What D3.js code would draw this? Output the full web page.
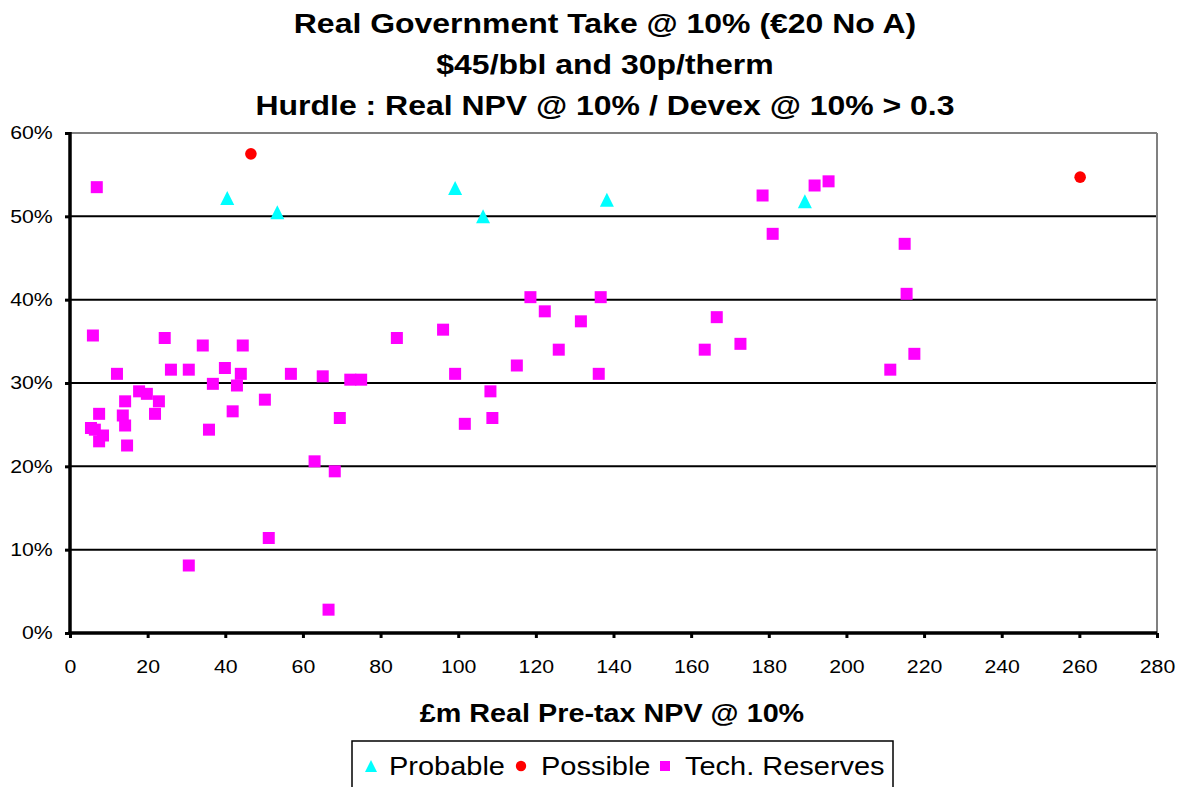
<!DOCTYPE html>
<html>
<head>
<meta charset="utf-8">
<script src="https://cdn.jsdelivr.net/npm/d3@7"></script>
<style>
  html, body { margin: 0; padding: 0; background: #fff; }
  svg { display: block; font-family: "Liberation Sans", Arial, sans-serif; }
</style>
</head>
<body>
<svg id="chart" width="1184" height="787"></svg>
<script>
// ---- Data (x = £m Real Pre-tax NPV @ 10%, y = Real Government Take, %) ----
const titleLines = [
  "Real Government Take @ 10% (€20 No A)",
  "$45/bbl and 30p/therm",
  "Hurdle : Real NPV @ 10% / Devex @ 10% > 0.3"
];
const xAxisTitle = "£m Real Pre-tax NPV @ 10%";
const xTicks = [0, 20, 40, 60, 80, 100, 120, 140, 160, 180, 200, 220, 240, 260, 280];
const yTicks = [0, 10, 20, 30, 40, 50, 60];

const probable = [
  [40.5, 52.2], [53.4, 50.5], [99.2, 53.4], [106.4, 50.0], [138.3, 52.0], [189.3, 51.8]
];
const possible = [
  [46.6, 57.5], [260.2, 54.7]
];
const techReserves = [
  [6.9, 53.5], [5.9, 35.7], [24.4, 35.4], [34.2, 34.5], [44.5, 34.5], [12.1, 31.1],
  [26.0, 31.6], [30.6, 31.6], [39.9, 31.8], [44.0, 31.1], [56.9, 31.1], [65.1, 30.8],
  [72.2, 30.4], [75.0, 30.4], [36.8, 29.9], [43.0, 29.7], [17.8, 29.0], [19.8, 28.7],
  [14.2, 27.8], [22.9, 27.8], [50.2, 28.0], [7.5, 26.3], [13.6, 26.1], [21.9, 26.3],
  [41.9, 26.6], [69.5, 25.8], [5.4, 24.6], [6.4, 24.4], [14.2, 24.9], [8.5, 23.7],
  [7.5, 23.0], [35.8, 24.4], [14.7, 22.5], [63.0, 20.6], [68.2, 19.4], [51.2, 11.4],
  [30.6, 8.1], [66.6, 2.8],
  [118.6, 40.3], [136.7, 40.3], [122.3, 38.6], [131.6, 37.4], [96.1, 36.4], [84.2, 35.4],
  [125.9, 34.0], [115.1, 32.1], [99.2, 31.1], [136.2, 31.1], [108.3, 29.0], [108.8, 25.8],
  [101.7, 25.1],
  [178.4, 52.5], [191.8, 53.7], [195.4, 54.2], [181.0, 47.9], [215.0, 46.7], [215.5, 40.7],
  [166.6, 37.9], [163.5, 34.0], [172.7, 34.7], [217.5, 33.5], [211.3, 31.6]
];
const seriesNames = ["Probable", "Possible", "Tech. Reserves"];
const seriesColors = ["#00FFFF", "#FF0000", "#FF00FF"];

// ---- Layout ----
const plot = { left: 70, right: 1157, top: 133, bottom: 633 };
const SX = 1.15; // horizontal text stretch seen in the reference

const svg = d3.select("#chart");
const x = d3.scaleLinear().domain([0, 280]).range([plot.left, plot.right]);
const y = d3.scaleLinear().domain([0, 60]).range([plot.bottom, plot.top]);

// Titles
svg.append("g").selectAll("text").data(titleLines).join("text")
  .attr("transform", (d, i) => `translate(605,${33 + i * 41}) scale(${SX},1)`)
  .attr("text-anchor", "middle")
  .attr("font-size", 27.8)
  .attr("font-weight", "bold")
  .attr("fill", "#000")
  .text(d => d);

// Gridlines (10%..50%)
svg.append("g").selectAll("line").data(yTicks.filter(t => t > 0 && t < 60)).join("line")
  .attr("x1", plot.left).attr("x2", plot.right)
  .attr("y1", d => y(d)).attr("y2", d => y(d))
  .attr("stroke", "#000").attr("stroke-width", 2);

// Top and right border (grey)
svg.append("line").attr("x1", plot.left).attr("x2", plot.right)
  .attr("y1", y(60)).attr("y2", y(60)).attr("stroke", "#808080").attr("stroke-width", 2);
svg.append("line").attr("x1", plot.right).attr("x2", plot.right)
  .attr("y1", y(60)).attr("y2", y(0)).attr("stroke", "#808080").attr("stroke-width", 2);

// Y axis
const yAxis = d3.axisLeft(y).tickValues(yTicks).tickSize(5).tickPadding(0)
  .tickFormat(d => d + "%");
const gy = svg.append("g").attr("transform", `translate(${plot.left},0)`).call(yAxis);
gy.select(".domain").attr("stroke", "#000").attr("stroke-width", 3.5)
  .attr("d", `M0,${plot.top - 1}V${plot.bottom + 1.5}`);
gy.selectAll(".tick line").attr("stroke", "#000").attr("stroke-width", 3);
gy.selectAll(".tick text")
  .attr("x", -(plot.left - 52.7) / SX)
  .attr("transform", `scale(${SX},1)`)
  .attr("font-size", 18.5)
  .attr("font-family", "'Liberation Sans', Arial, sans-serif")
  .attr("fill", "#000");

// X axis
const xAxis = d3.axisBottom(x).tickValues(xTicks).tickSize(5).tickPadding(22);
const gx = svg.append("g").attr("transform", `translate(0,${plot.bottom})`).call(xAxis);
gx.select(".domain").attr("stroke", "#000").attr("stroke-width", 3.5)
  .attr("d", `M${plot.left - 1.5},0H${plot.right}`);
gx.selectAll(".tick line").attr("stroke", "#000").attr("stroke-width", 3);
gx.selectAll(".tick text")
  .attr("transform", `scale(${SX},1)`)
  .attr("font-size", 18.5)
  .attr("font-family", "'Liberation Sans', Arial, sans-serif")
  .attr("fill", "#000");
gx.selectAll(".tick").each(function (d) {
  d3.select(this).select("text").attr("x", 0);
});

// X axis title
svg.append("text")
  .attr("transform", `translate(612,722) scale(${SX},1)`)
  .attr("text-anchor", "middle")
  .attr("font-size", 25)
  .attr("font-weight", "bold")
  .attr("fill", "#000")
  .text(xAxisTitle);

// Marker shapes
const triPath = "M0,-7L7,7L-7,7Z";
function drawTri(g, data) {
  g.selectAll("path.tri").data(data).join("path").attr("class", "tri")
    .attr("d", triPath)
    .attr("transform", d => `translate(${x(d[0])},${y(d[1])})`)
    .attr("fill", seriesColors[0]);
}
function drawCircle(g, data) {
  g.selectAll("circle").data(data).join("circle")
    .attr("cx", d => x(d[0])).attr("cy", d => y(d[1])).attr("r", 5.8)
    .attr("fill", seriesColors[1]);
}
function drawSquare(g, data) {
  g.selectAll("rect").data(data).join("rect")
    .attr("x", d => x(d[0]) - 6).attr("y", d => y(d[1]) - 6)
    .attr("width", 12).attr("height", 12)
    .attr("fill", seriesColors[2]);
}

drawTri(svg.append("g"), probable);
drawCircle(svg.append("g"), possible);
drawSquare(svg.append("g"), techReserves);

// Legend
const lg = svg.append("g");
lg.append("rect").attr("x", 352).attr("y", 741).attr("width", 541).attr("height", 60)
  .attr("fill", "#fff").attr("stroke", "#000").attr("stroke-width", 1.5);
const legendItems = [
  { name: seriesNames[0], mx: 371, tx: 389 },
  { name: seriesNames[1], mx: 521, tx: 541 },
  { name: seriesNames[2], mx: 665, tx: 685 }
];
const ly = 766;
lg.append("path").attr("d", "M0,-6L6,6L-6,6Z")
  .attr("transform", `translate(${legendItems[0].mx},${ly})`).attr("fill", seriesColors[0]);
lg.append("circle").attr("cx", legendItems[1].mx).attr("cy", ly).attr("r", 5.2)
  .attr("fill", seriesColors[1]);
lg.append("rect").attr("x", legendItems[2].mx - 5).attr("y", ly - 5)
  .attr("width", 10).attr("height", 10).attr("fill", seriesColors[2]);
lg.selectAll("text").data(legendItems).join("text")
  .attr("transform", d => `translate(${d.tx},${ly + 9}) scale(${SX},1)`)
  .attr("font-size", 25.2)
  .attr("fill", "#000")
  .text(d => d.name);
</script>
</body>
</html>
